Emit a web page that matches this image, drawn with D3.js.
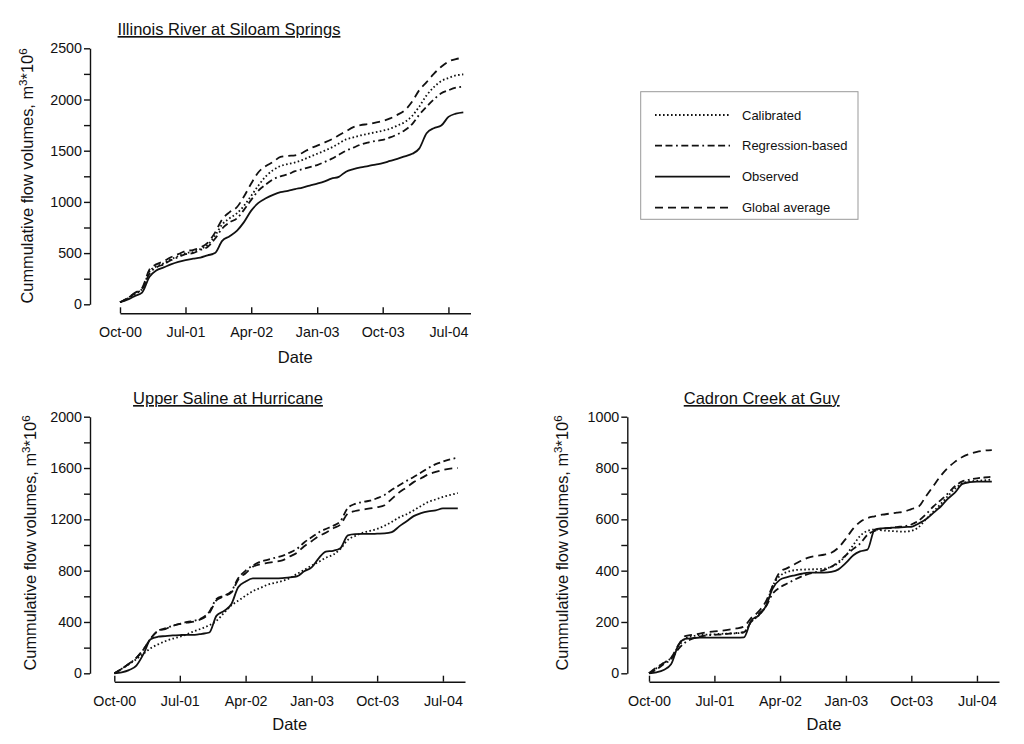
<!DOCTYPE html>
<html>
<head>
<meta charset="utf-8">
<script src="https://cdn.jsdelivr.net/npm/d3@7"></script>
<style>
  html, body { margin: 0; padding: 0; background: #fff; }
  svg { display: block; font-family: "Liberation Sans", Arial, sans-serif; }
</style>
</head>
<body>
<svg id="chart" width="1024" height="744"></svg>
<script>
// ---------------- DATA ----------------
// Monthly points, Oct-2000 .. Sep-2004
const firstMonth = new Date(2000, 9, 1);
const endMonth = new Date(2004, 9, 1);
const axisEnd = new Date(2004, 9, 1);
const tickLabels = ["Oct-00", "Jul-01", "Apr-02", "Jan-03", "Oct-03", "Jul-04"];
const seriesNames = ["Calibrated", "Regression-based", "Observed", "Global average"];

// Illinois River at Siloam Springs
const illinoisCalibrated = [20,55,100,150,320,370,400,440,470,500,510,540,580,670,780,840,890,960,1060,1160,1250,1310,1350,1370,1385,1410,1440,1470,1500,1530,1570,1610,1630,1650,1665,1680,1695,1715,1745,1780,1840,1930,2040,2120,2180,2210,2235,2245];
const illinoisRegression = [20,60,105,150,300,360,390,430,460,490,500,530,560,640,740,800,840,920,1020,1110,1170,1220,1250,1270,1300,1320,1340,1360,1390,1420,1460,1500,1530,1560,1580,1595,1605,1630,1660,1700,1760,1850,1930,2000,2060,2090,2115,2125];
const illinoisObserved = [20,45,80,115,270,330,360,390,415,432,445,456,478,500,620,665,720,800,915,990,1035,1068,1095,1108,1125,1140,1160,1178,1200,1228,1245,1295,1320,1338,1350,1365,1378,1400,1420,1445,1470,1520,1670,1720,1745,1830,1862,1875];
const illinoisGlobal = [20,60,110,160,340,390,420,460,490,520,530,555,600,700,830,900,950,1050,1180,1290,1350,1390,1440,1450,1455,1480,1520,1550,1580,1610,1650,1690,1730,1750,1760,1775,1790,1815,1850,1895,1980,2090,2170,2250,2320,2370,2395,2405];

// Upper Saline at Hurricane
const salineCalibrated = [0,35,70,110,155,195,225,250,270,285,305,330,350,375,410,470,530,565,605,640,665,690,705,720,740,775,805,840,870,900,925,970,1040,1070,1095,1110,1125,1150,1180,1215,1240,1270,1305,1335,1355,1375,1390,1405];
const salineRegression = [0,35,75,120,190,270,330,350,370,385,400,410,430,480,580,605,640,740,800,840,870,885,900,915,940,970,1020,1060,1100,1125,1150,1185,1290,1320,1335,1345,1365,1390,1430,1465,1500,1530,1565,1600,1630,1650,1668,1680];
const salineObserved = [0,8,25,60,155,265,285,290,295,298,300,300,308,318,450,485,540,670,715,740,740,740,740,742,748,755,795,825,900,948,955,975,1075,1085,1086,1086,1088,1090,1100,1145,1185,1225,1248,1262,1270,1285,1286,1286];
const salineGlobal = [0,35,75,120,190,270,330,345,370,385,395,405,425,470,570,600,630,730,780,830,850,860,870,880,910,940,990,1030,1070,1095,1130,1160,1245,1265,1275,1285,1295,1310,1360,1410,1450,1490,1520,1550,1570,1585,1595,1600];

// Cadron Creek at Guy
const cadronCalibrated = [0,20,40,60,105,135,145,149,151,152,154,155,156,160,200,225,265,340,380,395,402,404,405,406,408,415,430,460,500,535,555,560,557,555,553,552,555,570,600,630,660,690,720,740,748,750,752,755];
const cadronRegression = [0,15,35,55,95,120,135,143,148,150,152,155,157,160,200,230,260,310,335,350,365,378,388,395,402,415,435,460,485,505,540,555,563,566,570,573,580,595,620,650,675,700,730,748,755,760,763,766];
const cadronObserved = [0,4,13,35,110,134,137,139,139,139,139,139,139,140,205,225,262,330,365,375,382,388,392,392,392,395,405,430,460,475,482,560,565,567,568,570,571,584,600,625,650,680,705,738,745,747,747,747];
const cadronGlobal = [0,23,40,60,110,145,150,155,160,163,166,170,175,182,215,240,280,340,395,410,425,440,452,458,462,470,490,525,565,590,605,612,618,622,626,630,640,650,690,730,770,800,825,843,855,863,868,870];

// ---------------- STYLES / LAYOUT ----------------
const dashes = {
  "Calibrated": "1.6,2.4",
  "Regression-based": "7,3.5,7,3.5,1.8,3.5",
  "Observed": null,
  "Global average": "8,5"
};

const months = d3.timeMonth.range(firstMonth, endMonth);

const panels = [
  { title: "Illinois River at Siloam Springs", titleX: 229, titleY: 35,
    values: [illinoisCalibrated, illinoisRegression, illinoisObserved, illinoisGlobal],
    yMax: 2500, yMinor: 250, yMajor: 500,
    yAxisX: 90, yTop: 48.3, yBottom: 304.3,
    xLeft: 120, xRight: 470.5, xAxisY: 313.3,
    yLabelX: 33, yLabelY: 176, dateY: 363 },
  { title: "Upper Saline at Hurricane", titleX: 228, titleY: 404,
    values: [salineCalibrated, salineRegression, salineObserved, salineGlobal],
    yMax: 2000, yMinor: 200, yMajor: 400,
    yAxisX: 90, yTop: 416.7, yBottom: 673.3,
    xLeft: 114.3, xRight: 465, xAxisY: 681.7,
    yLabelX: 36, yLabelY: 543, dateY: 730 },
  { title: "Cadron Creek at Guy", titleX: 761.7, titleY: 404,
    values: [cadronCalibrated, cadronRegression, cadronObserved, cadronGlobal],
    yMax: 1000, yMinor: 100, yMajor: 200,
    yAxisX: 627.3, yTop: 416.7, yBottom: 673.3,
    xLeft: 649, xRight: 999, xAxisY: 681.7,
    yLabelX: 568, yLabelY: 543, dateY: 730 }
];

const svg = d3.select("#chart");
const ink = "#111";

panels.forEach(p => {
  const x = d3.scaleTime().domain([firstMonth, axisEnd]).range([p.xLeft, p.xRight]);
  const y = d3.scaleLinear().domain([0, p.yMax]).range([p.yBottom, p.yTop]);

  // Y axis
  const yTicks = d3.range(0, p.yMax + 1, p.yMinor);
  const gy = svg.append("g")
    .attr("transform", `translate(${p.yAxisX},0)`)
    .call(d3.axisLeft(y).tickValues(yTicks)
      .tickFormat(d => d % p.yMajor === 0 ? d : "")
      .tickSize(6).tickSizeOuter(0).tickPadding(2));
  gy.selectAll("path, line").attr("stroke", ink).attr("stroke-width", 1.4);
  gy.selectAll("text").attr("font-size", 14.3).attr("fill", ink)
    .attr("font-family", "Liberation Sans, Arial, sans-serif");

  // X axis (ticks point up, labels below)
  const xTickDates = tickLabels.map(s => d3.timeParse("%b-%y")(s));
  const gx = svg.append("g")
    .attr("transform", `translate(0,${p.xAxisY})`)
    .call(d3.axisBottom(x).tickValues(xTickDates)
      .tickFormat(d3.timeFormat("%b-%y"))
      .tickSizeInner(-6).tickSizeOuter(0).tickPadding(14));
  gx.selectAll("path, line").attr("stroke", ink).attr("stroke-width", 1.4);
  gx.selectAll("text").attr("font-size", 14.3).attr("fill", ink)
    .attr("font-family", "Liberation Sans, Arial, sans-serif");

  // Lines
  const line = d3.line()
    .x((d, i) => x(months[i]))
    .y(d => y(d))
    .curve(d3.curveMonotoneX);
  seriesNames.forEach((name, si) => {
    svg.append("path")
      .datum(p.values[si])
      .attr("fill", "none")
      .attr("stroke", ink)
      .attr("stroke-width", 1.8)
      .attr("stroke-dasharray", dashes[name])
      .attr("d", line);
  });

  // Title
  svg.append("text")
    .attr("x", p.titleX).attr("y", p.titleY)
    .attr("text-anchor", "middle")
    .attr("font-size", 16.5).attr("fill", ink)
    .style("text-decoration", "underline")
    .text(p.title);

  // Date label
  svg.append("text")
    .attr("x", (p.xLeft + p.xRight) / 2).attr("y", p.dateY)
    .attr("text-anchor", "middle")
    .attr("font-size", 16.5).attr("fill", ink)
    .text("Date");

  // Y label with superscripts
  const yl = svg.append("text")
    .attr("transform", `translate(${p.yLabelX},${p.yLabelY}) rotate(-90)`)
    .attr("text-anchor", "middle")
    .attr("font-size", 16.4).attr("fill", ink);
  yl.append("tspan").text("Cummulative flow volumes, m");
  yl.append("tspan").attr("font-size", 11.5).attr("dy", -6).text("3");
  yl.append("tspan").attr("dy", 6).text("*10");
  yl.append("tspan").attr("font-size", 11.5).attr("dy", -6).text("6");
});

// Legend
const lg = svg.append("g");
lg.append("rect")
  .attr("x", 640.7).attr("y", 91.7).attr("width", 217.3).attr("height", 127.6)
  .attr("fill", "#fff").attr("stroke", "#999").attr("stroke-width", 1);
const legendRowY = [115, 145.7, 176.7, 207.7];
seriesNames.forEach((name, i) => {
  lg.append("line")
    .attr("x1", 655).attr("x2", 730)
    .attr("y1", legendRowY[i]).attr("y2", legendRowY[i])
    .attr("stroke", ink).attr("stroke-width", 1.8)
    .attr("stroke-dasharray", dashes[name]);
  lg.append("text")
    .attr("x", 742).attr("y", legendRowY[i] + 4.5)
    .attr("font-size", 13).attr("fill", ink)
    .text(name);
});
</script>
</body>
</html>
